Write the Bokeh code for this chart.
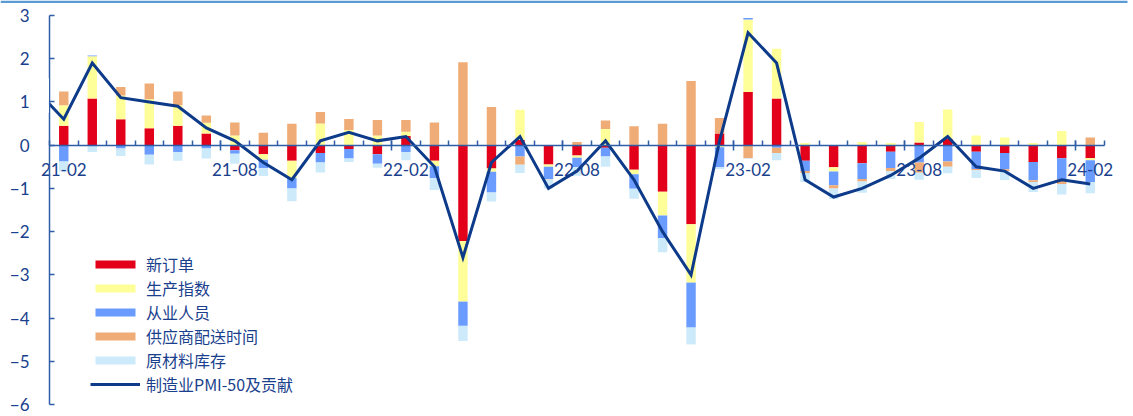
from bokeh.plotting import figure
from bokeh.models import (LinearAxis, FixedTicker, Range1d, Legend, LegendItem,
                          BoxAnnotation, CustomJSTickFormatter)
from bokeh.embed import file_html
from bokeh.resources import INLINE

# ---------------- data ----------------
months = ["21-02", "21-03", "21-04", "21-05", "21-06", "21-07", "21-08", "21-09", "21-10", "21-11", "21-12",
          "22-01", "22-02", "22-03", "22-04", "22-05", "22-06", "22-07", "22-08", "22-09", "22-10", "22-11", "22-12",
          "23-01", "23-02", "23-03", "23-04", "23-05", "23-06", "23-07", "23-08", "23-09", "23-10", "23-11", "23-12",
          "24-01", "24-02"]
tick_labels = ["21-02", "21-08", "22-02", "22-08", "23-02", "23-08", "24-02"]

new_orders = [0.45, 1.08, 0.60, 0.39, 0.45, 0.27, -0.12, -0.21, -0.36, -0.18, -0.09,
              -0.21, 0.21, -0.36, -2.22, -0.54, 0.12, -0.45, -0.24, -0.06, -0.57, -1.08, -1.83,
              0.27, 1.23, 1.08, -0.36, -0.51, -0.42, -0.15, 0.06, 0.15, -0.15, -0.18, -0.39,
              -0.30, -0.30]
production = [0.475, 0.975, 0.55, 0.675, 0.475, 0.25, 0.225, -0.125, -0.40, 0.50, 0.35,
              0.225, 0.10, -0.125, -1.40, -0.075, 0.70, -0.05, -0.05, 0.375, -0.10, -0.55, -1.35,
              -0.05, 1.675, 1.15, 0.05, -0.10, 0.075, 0.05, 0.475, 0.675, 0.225, 0.175, 0.05,
              0.325, -0.05]
employment = [-0.38, 0.02, -0.08, -0.22, -0.16, -0.08, -0.08, -0.20, -0.24, -0.22, -0.22,
              -0.22, -0.16, -0.28, -0.56, -0.48, -0.26, -0.28, -0.22, -0.20, -0.34, -0.52, -1.04,
              -0.46, 0.04, -0.06, -0.24, -0.32, -0.36, -0.38, -0.40, -0.38, -0.40, -0.38, -0.42,
              -0.48, -0.50]
delivery = [0.315, 0.0, 0.195, 0.36, 0.315, 0.165, 0.30, 0.285, 0.495, 0.27, 0.255,
            0.36, 0.27, 0.525, 1.92, 0.885, -0.195, -0.015, 0.075, 0.195, 0.435, 0.495, 1.485,
            0.36, -0.30, -0.12, -0.045, -0.075, -0.06, -0.075, -0.24, -0.12, -0.03, -0.045, -0.045,
            -0.12, 0.18]
inventory = [-0.23, -0.16, -0.17, -0.23, -0.20, -0.23, -0.23, -0.18, -0.30, -0.23, -0.08,
             -0.09, -0.19, -0.27, -0.35, -0.21, -0.19, -0.21, -0.20, -0.24, -0.23, -0.33, -0.39,
             -0.04, -0.02, -0.17, -0.21, -0.24, -0.26, -0.18, -0.16, -0.15, -0.18, -0.20, -0.23,
             -0.24, -0.26]
# PMI-50, starting one month earlier (21-01)
pmi_line = [1.3, 0.6, 1.9, 1.1, 1.0, 0.9, 0.4, 0.1, -0.4, -0.8, 0.1, 0.3,
            0.1, 0.2, -0.5, -2.6, -0.4, 0.2, -1.0, -0.6, 0.1, -0.8, -2.0, -3.0,
            0.1, 2.6, 1.9, -0.8, -1.2, -1.0, -0.7, -0.3, 0.2, -0.5, -0.6, -1.0,
            -0.8, -0.9]

series_names = ["新订单", "生产指数", "从业人员", "供应商配送时间", "原材料库存"]
line_name = "制造业PMI-50及贡献"

# ---------------- styles / layout ----------------
colors = ["#E2001A", "#FFFF99", "#6A9BFF", "#F0AC76", "#CDEAFB"]
line_color = "#0D3B8A"
text_color = "#1A3F8D"
axis_color = "#2F5DA6"
W, H = 1133, 416
AX_LEFT_PX, AX_RIGHT_PX = 49, 1104      # category area
AX_TOP_PX, AX_BOT_PX = 15, 404          # value 3 .. -6
Y_MIN, Y_MAX = -6, 3

n = len(months)
xs = list(range(n))
line_x = list(range(-1, n))

px_x = (AX_RIGHT_PX - AX_LEFT_PX) / n
x0 = -0.5 - AX_LEFT_PX / px_x
x1 = x0 + W / px_x
px_y = (AX_BOT_PX - AX_TOP_PX) / (Y_MAX - Y_MIN)
y1 = Y_MAX + AX_TOP_PX / px_y
y0 = y1 - H / px_y

p = figure(width=W, height=H, output_backend="svg", toolbar_location=None,
           x_range=Range1d(x0, x1), y_range=Range1d(y0, y1),
           x_axis_type=None, y_axis_type=None,
           min_border_left=0, min_border_right=0, min_border_top=0, min_border_bottom=0)
p.outline_line_color = None
p.background_fill_color = "white"
p.border_fill_color = "white"

# stacked bars (positives up, negatives down, in series order)
pos = [0.0] * n
neg = [0.0] * n
renderers = []
for vals, col in zip([new_orders, production, employment, delivery, inventory], colors):
    bottoms, tops = [], []
    for i, v in enumerate(vals):
        if v >= 0:
            bottoms.append(pos[i]); tops.append(pos[i] + v); pos[i] += v
        else:
            bottoms.append(neg[i]); tops.append(neg[i] + v); neg[i] += v
    r = p.vbar(x=xs, width=0.33, bottom=bottoms, top=tops, fill_color=col, line_color=None)
    renderers.append(r)

lr = p.line(x=line_x, y=pmi_line, line_width=3, line_color=line_color, line_join="miter")

# hide the part of the line left of the value axis
p.add_layout(BoxAnnotation(left=-1.1, right=-0.52, bottom=0.75, top=1.55,
                           fill_color="white", fill_alpha=1, line_color=None))

# y axis at x = -0.5
yax = LinearAxis(fixed_location=-0.5, bounds=(Y_MIN, Y_MAX),
                 ticker=FixedTicker(ticks=list(range(Y_MIN, Y_MAX + 1))))
yax.axis_line_color = axis_color
yax.axis_line_width = 1.5
yax.major_tick_line_color = axis_color
yax.major_tick_line_width = 1.5
yax.major_tick_in = 5
yax.major_tick_out = 0
yax.minor_tick_line_color = None
yax.major_label_standoff = 20
yax.major_label_text_font = "Lato"
yax.major_label_text_font_size = "17px"
yax.major_label_text_color = text_color
p.add_layout(yax, "left")

# x axis at y = 0
label_idx = [months.index(t) for t in tick_labels]
bounds = [i - 0.5 for i in range(n + 1)]
xax = LinearAxis(fixed_location=0, bounds=(-0.5, n - 0.5),
                 ticker=FixedTicker(ticks=label_idx, minor_ticks=bounds),
                 major_label_overrides={i: t for i, t in zip(label_idx, tick_labels)})
xax.axis_line_color = axis_color
xax.axis_line_width = 1.5
xax.major_tick_line_color = None
xax.major_tick_in = 0
xax.major_tick_out = 0
xax.minor_tick_line_color = axis_color
xax.minor_tick_line_width = 1.5
xax.minor_tick_in = 5
xax.minor_tick_out = 0
xax.major_label_standoff = 18
xax.major_label_text_font = "Lato"
xax.major_label_text_font_size = "17px"
xax.major_label_text_color = text_color
p.add_layout(xax, "below")

cross_ticks = [i - 0.5 for i in label_idx[1:]]
xax2 = LinearAxis(fixed_location=0, ticker=FixedTicker(ticks=cross_ticks, minor_ticks=[]),
                  formatter=CustomJSTickFormatter(code="return ''"))
xax2.axis_line_color = None
xax2.major_tick_line_color = axis_color
xax2.major_tick_line_width = 1.5
xax2.major_tick_in = 5
xax2.major_tick_out = 5
xax2.minor_tick_line_color = None
p.add_layout(xax2, "below")

# top border line of the chart area
p.add_layout(BoxAnnotation(right=x1 - 6 / px_x, bottom=y1 - 2.5 / px_y,
                           fill_color="#5B9BD5", fill_alpha=1, line_color=None))

items = [LegendItem(label=name, renderers=[r]) for name, r in zip(series_names, renderers)]
items.append(LegendItem(label=line_name, renderers=[lr]))
legend = Legend(items=items, location=(90, 20))
legend.label_text_font = "Noto Sans CJK SC"
legend.label_text_font_size = "16px"
legend.label_text_color = text_color
legend.glyph_width = 50
legend.glyph_height = 10
legend.label_height = 18
legend.label_standoff = 6
legend.spacing = 0
legend.padding = 0
legend.margin = 0
legend.border_line_color = None
legend.background_fill_alpha = 0
p.add_layout(legend)

open("out.html", "w").write(file_html(p, INLINE))
